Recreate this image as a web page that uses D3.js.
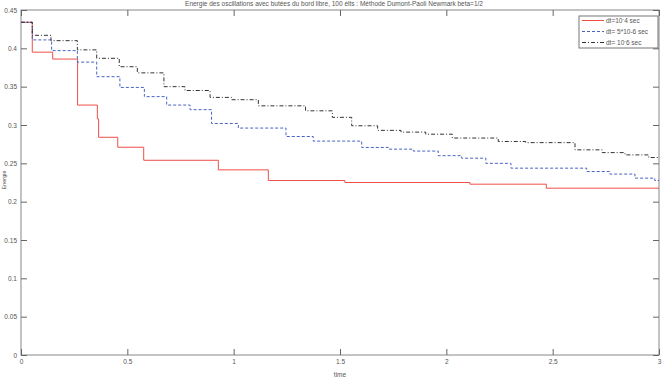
<!DOCTYPE html>
<html>
<head>
<meta charset="utf-8">
<script src="https://cdn.jsdelivr.net/npm/d3@7"></script>
<style>
  body { margin: 0; background: #fff; }
  text { font-family: "Liberation Sans", Arial, sans-serif; fill: #555; }
</style>
</head>
<body>
<div id="chart"></div>
<script>
// step data (time of each step, energy after it)
let tRed  = [0, 0.053, 0.149, 0.266, 0.359, 0.365, 0.455, 0.577, 0.928, 1.163, 1.523, 2.111, 2.47, 3];
let eRed  = [0.434, 0.395, 0.386, 0.326, 0.308, 0.284, 0.271, 0.254, 0.2415, 0.2276, 0.225, 0.2228, 0.2176, 0.2176];

let tBlue = [0, 0.053, 0.144, 0.265, 0.356, 0.465, 0.580, 0.685, 0.795, 0.896, 1.022, 1.246, 1.374, 1.602, 1.727, 1.845, 1.962, 2.072, 2.186, 2.304, 2.66, 2.769, 2.887, 2.98, 3];
let eBlue = [0.434, 0.411, 0.397, 0.382, 0.363, 0.349, 0.337, 0.326, 0.320, 0.302, 0.296, 0.285, 0.279, 0.2707, 0.2685, 0.266, 0.260, 0.2567, 0.250, 0.2437, 0.2393, 0.236, 0.2307, 0.2276, 0.2276];

let tBlack = [0, 0.053, 0.141, 0.265, 0.356, 0.462, 0.547, 0.672, 0.771, 0.889, 0.99, 1.116, 1.338, 1.464, 1.555, 1.677, 1.787, 1.903, 2.028, 2.244, 2.373, 2.605, 2.733, 2.84, 2.952, 3];
let eBlack = [0.434, 0.417, 0.410, 0.398, 0.387, 0.376, 0.368, 0.350, 0.345, 0.336, 0.333, 0.325, 0.3185, 0.310, 0.299, 0.293, 0.2907, 0.288, 0.283, 0.2785, 0.277, 0.2676, 0.264, 0.261, 0.2576, 0.2576];

let xTicks = [0, 0.5, 1, 1.5, 2, 2.5, 3];
let yTicks = [0, 0.05, 0.1, 0.15, 0.2, 0.25, 0.3, 0.35, 0.4, 0.45];

let titleText = "Energie des oscillations avec butées du bord libre, 100 élts : Méthode Dumont-Paoli Newmark beta=1/2";

let svgWidth = 667;
let svgHeight = 387;
let margin = { top: 10, right: 8, bottom: 32, left: 21 };
let width = svgWidth - margin.left - margin.right;
let height = svgHeight - margin.top - margin.bottom;

let svg = d3.select("#chart")
    .append("svg")
    .attr("width", svgWidth)
    .attr("height", svgHeight);

let chartGroup = svg.append("g")
    .attr("transform", `translate(${margin.left}, ${margin.top})`);

let x = d3.scaleLinear().domain([0, 3]).range([0, width]);
let y = d3.scaleLinear().domain([0, 0.45]).range([height, 0]);

// box
chartGroup.append("rect")
    .attr("width", width).attr("height", height)
    .attr("fill", "none").attr("stroke", "#888").attr("stroke-width", 1);

let tickLen = 6;
function styleAxis(g) {
    g.select(".domain").remove();
    g.selectAll("line").attr("stroke", "#666");
    g.selectAll("text").attr("font-size", 6.5).attr("fill", "#555");
}

chartGroup.append("g")
    .attr("transform", `translate(0, ${height})`)
    .call(d3.axisBottom(x).tickValues(xTicks).tickFormat(d3.format("")).tickSizeInner(-tickLen).tickPadding(4))
    .call(styleAxis);

chartGroup.append("g")
    .call(d3.axisTop(x).tickValues(xTicks).tickFormat("").tickSizeInner(-tickLen))
    .call(styleAxis);

chartGroup.append("g")
    .call(d3.axisLeft(y).tickValues(yTicks).tickFormat(d3.format("")).tickSizeInner(-tickLen).tickPadding(4))
    .call(styleAxis);

chartGroup.append("g")
    .attr("transform", `translate(${width}, 0)`)
    .call(d3.axisRight(y).tickValues(yTicks).tickFormat("").tickSizeInner(-tickLen))
    .call(styleAxis);

// curves
let line = d3.line()
    .x(d => x(d[0]))
    .y(d => y(d[1]))
    .curve(d3.curveStepAfter);

let series = [
    { t: tRed, e: eRed, color: "#ee4f47", dash: null },
    { t: tBlue, e: eBlue, color: "#4a62c4", dash: "3,2" },
    { t: tBlack, e: eBlack, color: "#333", dash: "4,2,1,2" }
];

series.forEach(s => {
    chartGroup.append("path")
        .datum(s.t.map((t, i) => [t, s.e[i]]))
        .attr("d", line)
        .attr("fill", "none")
        .attr("stroke", s.color)
        .attr("stroke-width", 1)
        .attr("stroke-dasharray", s.dash);
});

// labels
svg.append("text")
    .attr("x", 334).attr("y", 6)
    .attr("text-anchor", "middle")
    .attr("font-size", 6.5)
    .text(titleText);

svg.append("text")
    .attr("x", margin.left + width / 2).attr("y", 377)
    .attr("text-anchor", "middle")
    .attr("font-size", 6.5)
    .text("time");

svg.append("text")
    .attr("transform", "translate(5.5, 180) rotate(-90)")
    .attr("text-anchor", "middle")
    .attr("font-size", 5.5)
    .text("Energie");

// legend
let legend = svg.append("g").attr("transform", "translate(579, 16)");
legend.append("rect")
    .attr("width", 79).attr("height", 32)
    .attr("fill", "#fff").attr("stroke", "#777").attr("stroke-width", 1);

let legendItems = [
    { pre: "dt=10", sup: "-", post: "4 sec", s: series[0] },
    { pre: "dt= 5*10-6 sec", sup: "", post: "", s: series[1] },
    { pre: "dt= 10", sup: "-", post: "6 sec", s: series[2] }
];

legendItems.forEach((d, i) => {
    let yy = 4.5 + i * 11;
    legend.append("line")
        .attr("x1", 3).attr("x2", 25).attr("y1", yy).attr("y2", yy)
        .attr("stroke", d.s.color).attr("stroke-width", 1)
        .attr("stroke-dasharray", d.s.dash);
    let txt = legend.append("text")
        .attr("x", 27).attr("y", yy + 2.3)
        .attr("font-size", 6.5);
    txt.append("tspan").text(d.pre);
    if (d.sup) {
        txt.append("tspan").attr("dy", -2).attr("font-size", 5).text(d.sup);
        txt.append("tspan").attr("dy", 2).text(d.post);
    }
});
</script>
</body>
</html>
